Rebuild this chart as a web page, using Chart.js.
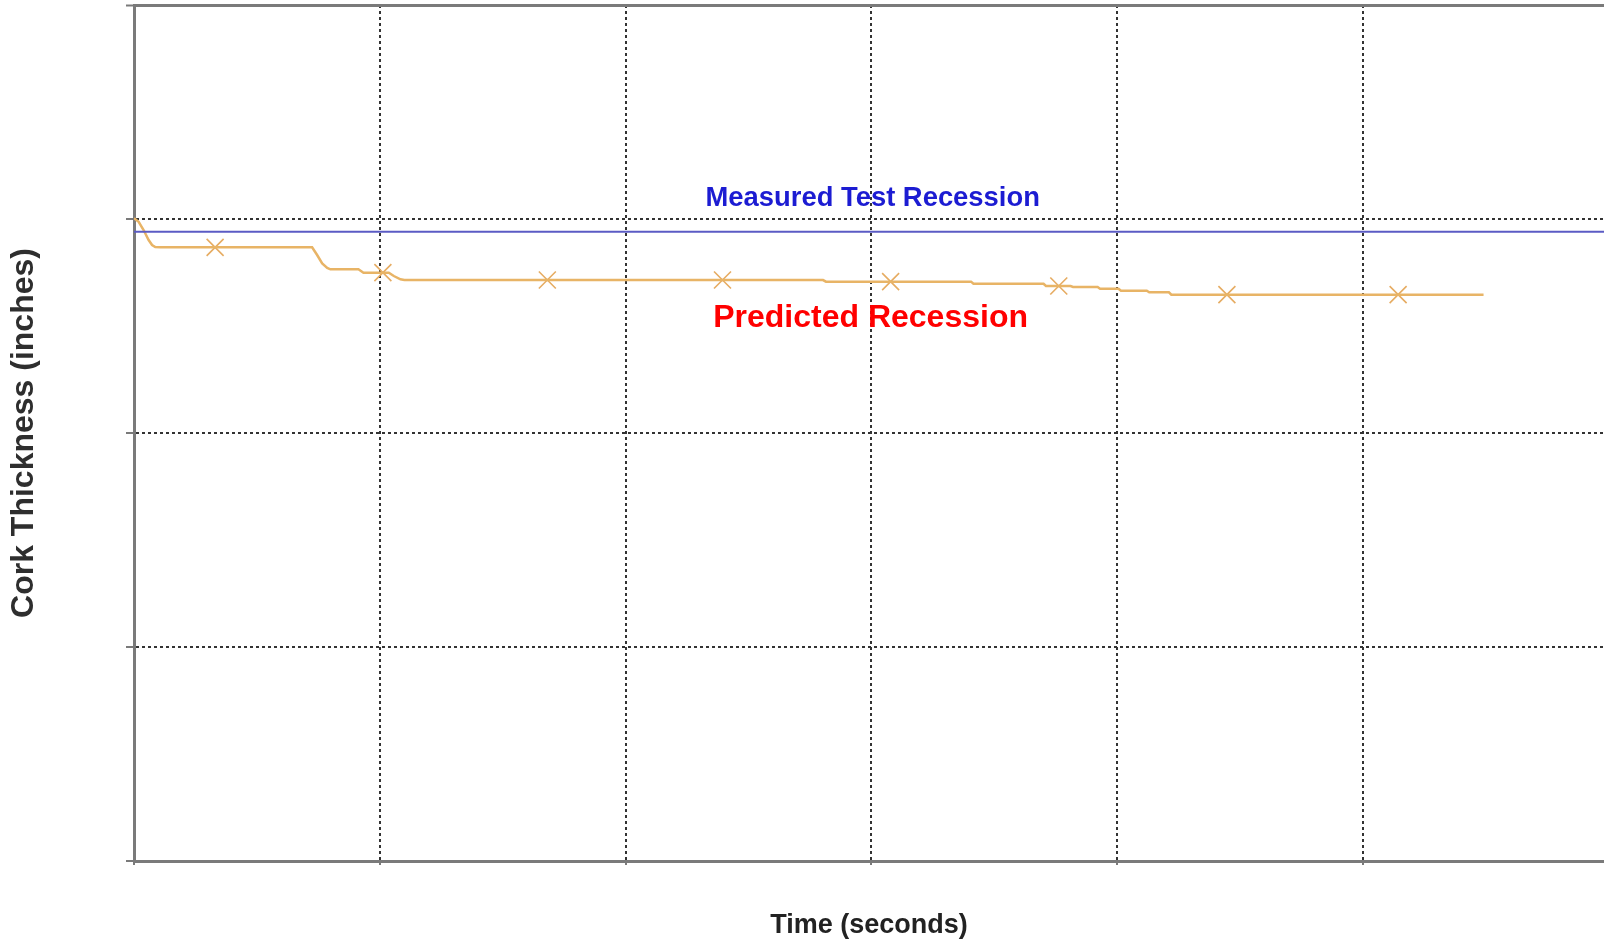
<!DOCTYPE html>
<html>
<head>
<meta charset="utf-8">
<title>Cork Thickness vs Time</title>
<script src="https://cdn.jsdelivr.net/npm/chart.js@4.4.1/dist/chart.umd.min.js"></script>
<style>
  html, body { margin: 0; padding: 0; background: #ffffff; overflow: hidden; }
  #wrap { position: relative; width: 1604px; height: 942px; }
</style>
</head>
<body>
<div id="wrap"><canvas id="chart" width="1604" height="942"></canvas></div>
<script>
// Predicted cork recession (time in seconds, remaining thickness in inches)
const predictedTime = [
  0, 0.38, 0.78, 1.19, 1.47, 1.73, 2.14, 14.49, 14.90, 15.31, 15.72, 15.98,
  18.26, 18.67, 20.73, 21.14, 21.68, 22.0, 56.06, 56.3, 68.1, 68.3, 74.0, 74.2,
  76.2, 76.4, 78.4, 78.6, 80.1, 80.3, 82.4, 82.6, 84.2, 84.4, 109.8
];
const predictedThickness = [
  0.7508, 0.7468, 0.7371, 0.7254, 0.7196, 0.7173, 0.7169, 0.7169, 0.7079, 0.6981, 0.6928, 0.6912,
  0.6912, 0.6873, 0.6873, 0.6834, 0.6795, 0.6787, 0.6787, 0.6768, 0.6768, 0.6743, 0.6743, 0.6717,
  0.6717, 0.6706, 0.6706, 0.6686, 0.6686, 0.6662, 0.6662, 0.6644, 0.6644, 0.6616, 0.6616
];

// Symbols placed along the predicted curve
const markerTime = [6.60, 20.25, 33.63, 47.88, 61.56, 75.24, 88.92, 102.85];
const markerThickness = [0.7169, 0.6873, 0.6787, 0.6787, 0.6768, 0.6717, 0.6616, 0.6616];

// Measured post-test thickness
const measuredTime = [0, 119.6];
const measuredThickness = [0.735, 0.735];

// Axis ranges and grid spacing
const timeRange = [0, 119.6];
const timeStep = 20;
const thicknessRange = [0, 1.0];
const thicknessStep = 0.25;

const toPoints = (xs, ys) => xs.map((x, i) => ({ x: x, y: ys[i] }));

const FONT = "'Liberation Sans', Arial, Helvetica, sans-serif";
const GRID_DARK = '#333333';
const FRAME = '#7a7a7a';
const NONE = 'rgba(0,0,0,0)';

// Only whole grid steps get a line; the axis start is covered by the frame
const onStep = (c, step) => c.tick && Math.abs(c.tick.value / step - Math.round(c.tick.value / step)) < 1e-6;

// In-plot curve annotations
const curveLabels = [
  { text: 'Measured Test Recession', x: 60.1, y: 0.7655, color: '#1c1cd2', size: 27.4 },
  { text: 'Predicted Recession', x: 59.93, y: 0.6242, color: '#ff0000', size: 32 }
];

const curveLabelPlugin = {
  id: 'curveLabels',
  afterDatasetsDraw(chart) {
    const { ctx, scales } = chart;
    ctx.save();
    ctx.textAlign = 'center';
    ctx.textBaseline = 'alphabetic';
    curveLabels.forEach(l => {
      ctx.font = 'bold ' + l.size + 'px ' + FONT;
      ctx.fillStyle = l.color;
      ctx.fillText(l.text, scales.x.getPixelForValue(l.x), scales.y.getPixelForValue(l.y));
    });
    ctx.restore();
  }
};

new Chart(document.getElementById('chart'), {
  type: 'scatter',
  data: {
    datasets: [
      {
        label: 'Measured Test Recession',
        data: toPoints(measuredTime, measuredThickness),
        showLine: true,
        borderColor: '#5b5bc4',
        borderWidth: 2,
        pointRadius: 0
      },
      {
        label: 'Predicted Recession',
        data: toPoints(predictedTime, predictedThickness),
        showLine: true,
        borderColor: '#e8b466',
        borderWidth: 2.5,
        pointRadius: 0,
        tension: 0
      },
      {
        label: 'Predicted Recession symbols',
        data: toPoints(markerTime, markerThickness),
        showLine: false,
        pointStyle: 'crossRot',
        pointRadius: 12,
        pointBorderWidth: 1.6,
        borderColor: '#e6ac62',
        backgroundColor: NONE
      }
    ]
  },
  options: {
    responsive: false,
    animation: false,
    layout: { autoPadding: false, padding: { top: 5, right: 0, bottom: 0, left: 0 } },
    plugins: {
      legend: { display: false },
      tooltip: { enabled: false }
    },
    scales: {
      x: {
        type: 'linear',
        min: timeRange[0],
        max: timeRange[1],
        afterFit: s => { s.height = 81; },
        ticks: { display: false, stepSize: timeStep, includeBounds: false },
        grid: {
          color: c => (!onStep(c, timeStep) || c.tick.value === 0) ? NONE : GRID_DARK,
          lineWidth: 2,
          tickLength: 4,
          tickColor: c => onStep(c, timeStep) ? FRAME : NONE,
          tickWidth: 2
        },
        border: { display: true, color: FRAME, width: 3, dash: [3, 3] },
        title: {
          display: true,
          text: 'Time (seconds)',
          color: '#222222',
          font: { family: FONT, size: 27, weight: 'bold', lineHeight: 1.15 },
          padding: { top: 0, bottom: 1 }
        }
      },
      y: {
        type: 'linear',
        min: thicknessRange[0],
        max: thicknessRange[1],
        afterFit: s => { s.width = 134; },
        ticks: { display: false, stepSize: thicknessStep },
        grid: {
          color: c => {
            if (!c.tick) return GRID_DARK;
            if (c.tick.value === thicknessRange[1]) return FRAME;
            if (c.tick.value === thicknessRange[0]) return NONE;
            return GRID_DARK;
          },
          lineWidth: c => (c.tick && c.tick.value === thicknessRange[1]) ? 3 : 2,
          tickLength: 8,
          tickColor: FRAME,
          tickWidth: 2
        },
        border: {
          display: true,
          color: FRAME,
          width: 3,
          dash: c => (c.tick && c.tick.value === thicknessRange[1]) ? [] : [3, 3]
        },
        title: {
          display: true,
          text: 'Cork Thickness (inches)',
          color: '#2e2e2e',
          font: { family: FONT, size: 32, weight: 'bold', lineHeight: 1.2 },
          padding: { top: 4.7, bottom: 0 }
        }
      }
    }
  },
  plugins: [curveLabelPlugin]
});
</script>
</body>
</html>
